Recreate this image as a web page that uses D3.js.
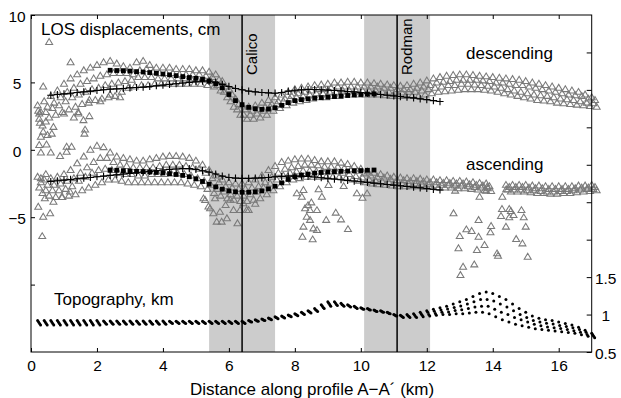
<!DOCTYPE html>
<html>
<head>
<meta charset="utf-8">
<script src="https://cdn.jsdelivr.net/npm/d3@7"></script>
<style>
  body { margin: 0; background: #fff; }
  text { font-family: "Liberation Sans", Arial, Helvetica, sans-serif; }
</style>
</head>
<body>
<svg id="chart" width="621" height="398"></svg>
<script>
// ---- data ----
// observation grid along the profile, km
const gridKm = d3.range(0.2, 17.001, 0.2);
// sub-profiles sample the grid with a small along-track shift, km
const trackShiftKm = [0, 0.1, 0.05, 0.15];
const topoShiftKm = [0, 0.03, 0.06, 0.09];

// descending LOS, cm (four parallel sub-profiles)
const descTrack1 = [3.3,3.6,4.0,4.4,4.9,5.3,5.6,5.9,6.1,6.3, 6.5,6.6,6.4,6.2,6.1,6.5,6.6,6.3,6.1,6.1, 6.1,6.0,6.0,6.0,5.9,5.9,5.8,5.6,5.1,4.5, 3.8,3.3,3.2,3.3,3.5,3.7,3.9,4.1,4.3,4.5, 4.6,4.7,4.8,4.85,4.9,5.0,5.0,5.05,5.05,5.0, 5.0,4.95,4.9,4.85,4.8,4.75,4.8,4.9,5.0,5.15, 5.3,5.4,5.5,5.55,5.6,5.6,5.55,5.5,5.45,5.4, 5.35,5.3,5.25,5.2,5.1,5.0,4.9,4.8,4.7,4.6, 4.5,4.4,4.3,4.1,3.9];
const descTrack2 = [2.8,3.2,3.5,3.9,4.3,4.6,4.9,5.1,5.3,5.5, 5.6,5.7,5.7,5.7,5.6,5.9,6.0,5.8,5.7,5.7, 5.7,5.6,5.6,5.6,5.6,5.5,5.4,5.2,4.7,4.1, 3.4,3.0,2.9,3.0,3.2,3.4,3.6,3.8,4.0,4.2, 4.3,4.4,4.5,4.5,4.6,4.7,4.7,4.7,4.7,4.7, 4.7,4.7,4.6,4.6,4.5,4.5,4.5,4.6,4.7,4.8, 5.0,5.05,5.1,5.2,5.2,5.2,5.2,5.15,5.1,5.0, 5.0,4.9,4.8,4.8,4.7,4.6,4.5,4.4,4.3,4.2, 4.1,4.05,4.0,3.8,3.7];
const descTrack3 = [2.3,2.8,3.1,3.3,3.6,3.9,4.1,4.3,4.5,4.6, 4.8,4.9,5.0,5.1,5.2,5.4,5.4,5.4,5.3,5.3, 5.3,5.3,5.3,5.3,5.2,5.2,5.1,4.8,4.3,3.6, 3.0,2.6,2.6,2.7,2.9,3.2,3.4,3.6,3.8,3.9, 4.0,4.1,4.2,4.2,4.3,4.3,4.4,4.4,4.4,4.4, 4.4,4.4,4.3,4.3,4.3,4.25,4.3,4.3,4.4,4.5, 4.6,4.7,4.8,4.8,4.9,4.9,4.85,4.8,4.75,4.7, 4.6,4.5,4.4,4.3,4.2,4.1,4.05,4.0,3.9,3.8, 3.75,3.7,3.6,3.5,3.45];
const descTrack4 = [1.8,2.4,2.6,2.8,3.0,3.2,3.4,3.5,3.7,3.8, 3.9,4.0,4.3,4.6,4.7,4.8,4.8,4.9,4.9,4.9, 4.9,4.9,4.9,4.9,4.9,4.8,4.7,4.4,3.9,3.2, 2.6,2.3,2.3,2.4,2.6,2.9,3.1,3.3,3.5,3.6, 3.7,3.8,3.9,3.9,4.0,4.0,4.1,4.1,4.1,4.1, 4.1,4.1,4.05,4.0,4.0,4.0,4.0,4.0,4.1,4.2, 4.3,4.35,4.4,4.45,4.5,4.5,4.5,4.45,4.4,4.3, 4.2,4.1,4.0,3.9,3.8,3.7,3.65,3.6,3.5,3.45, 3.4,3.35,3.3,3.25,3.2];
const descOutKm  = [0.55,1.2,0.37,0.25,0.27,0.37,0.3,0.25,0.47,0.68,0.63,1.44,1.59,1.64,1.62,1.08,1.77,1.77,1.43,2.1,2.4,2.7,0.22,0.45,0.5,0.3,1.23,1.0,1.3];
const descOutVal = [8.0,6.5,4.7,2.7,2.0,1.35,0.97,0.36,0.4,1.7,1.2,2.7,2.2,1.5,1.2,0.23,2.5,3.7,2.8,3.6,4.1,3.9,2.9,2.1,1.1,-0.2,0.23,2.7,2.4];

// ascending LOS, cm (null = no data)
const ascTrack1 = [-2.0,-2.2,-2.1,-2.0,-1.8,-1.5,-1.0,-0.5,0.0,0.3, 0.2,-0.2,-0.5,-0.6,-0.7,-0.8,-0.8,-0.7,-0.6,-0.5, -0.45,-0.45,-0.5,-0.6,-0.8,-1.1,-1.5,-1.9,-2.2,-2.4, -2.5,-2.5,-2.4,-2.2,-1.9,-1.5,-1.2,-0.9,-0.8,-0.7, -0.65,-0.65,-0.75,-0.85,-0.85,-0.85,-0.95,-1.05,-1.2,-1.4, -1.6,-1.7,-1.8,-1.9,-2.0,-2.05,-2.1,-2.1,-2.15,-2.2, -2.2,-2.25,-2.25,-2.3,-2.3,-2.35,-2.4,-2.45,-2.5,null, null,-2.6,-2.6,-2.6,-2.6,-2.65,-2.65,-2.7,-2.7,-2.7, -2.7,-2.7,-2.65,-2.65,-2.6];
const ascTrack2 = [-2.4,-2.6,-2.6,-2.5,-2.3,-2.1,-1.7,-1.3,-0.9,-0.6, -0.6,-0.9,-1.1,-1.2,-1.3,-1.3,-1.3,-1.3,-1.2,-1.1, -1.1,-1.1,-1.2,-1.3,-1.4,-1.7,-2.1,-2.4,-2.7,-2.8, -2.9,-2.9,-2.8,-2.7,-2.4,-2.0,-1.7,-1.4,-1.3,-1.2, -1.1,-1.1,-1.15,-1.25,-1.25,-1.25,-1.35,-1.45,-1.55,-1.75, -1.9,-2.0,-2.05,-2.15,-2.25,-2.25,-2.3,-2.3,-2.35,-2.4, -2.4,-2.45,-2.45,-2.5,-2.5,-2.55,-2.6,-2.65,-2.7,null, null,-2.75,-2.75,-2.75,-2.8,-2.85,-2.85,-2.9,-2.9,-2.9, -2.9,-2.85,-2.8,-2.8,-2.75];
const ascTrack3 = [-2.8,-3.0,-3.0,-3.0,-2.9,-2.7,-2.3,-2.0,-1.7,-1.5, -1.4,-1.5,-1.7,-1.8,-1.8,-1.9,-1.9,-1.8,-1.8,-1.8, -1.75,-1.75,-1.8,-1.9,-2.1,-2.3,-2.6,-2.9,-3.1,-3.3, -3.4,-3.4,-3.3,-3.1,-2.8,-2.5,-2.2,-1.9,-1.7,-1.6, -1.55,-1.55,-1.6,-1.6,-1.6,-1.6,-1.7,-1.8,-1.95,-2.05, -2.2,-2.3,-2.35,-2.4,-2.45,-2.5,-2.5,-2.5,-2.55,-2.55, -2.6,-2.6,-2.6,-2.65,-2.65,-2.7,-2.75,-2.8,-2.85,null, null,-2.95,-2.95,-2.95,-3.0,-3.0,-3.05,-3.1,-3.1,-3.05, -3.05,-3.0,-2.95,-2.9,-2.9];
const ascTrack4 = [-3.2,-3.4,-3.5,-3.5,-3.4,-3.3,-3.0,-2.8,-2.6,-2.4, -2.2,-2.2,-2.3,-2.4,-2.4,-2.4,-2.4,-2.4,-2.4,-2.4, -2.4,-2.4,-2.5,-2.6,-2.7,-2.9,-3.2,-3.4,-3.6,-3.7, -3.8,-3.8,-3.7,-3.6,-3.3,-3.0,-2.7,-2.4,-2.2,-2.1, -2.0,-2.0,-2.0,-2.0,-2.0,-2.0,-2.1,-2.2,-2.3,-2.4, -2.5,-2.55,-2.6,-2.65,-2.7,-2.7,-2.7,-2.7,-2.75,-2.75, -2.8,-2.8,-2.8,-2.85,-2.85,-2.9,-2.95,-3.0,-3.05,null, null,-3.1,-3.1,-3.1,-3.15,-3.2,-3.2,-3.25,-3.25,-3.2, -3.2,-3.15,-3.1,-3.05,-3.0];
const ascOutKm  = [0.22,0.37,0.34,0.58,0.42,0.68,0.93,1.18,0.88,1.08,0.6,0.45,0.3,
  5.23,5.43,5.63,5.78,5.94,6.14,6.26,6.6,6.44,6.04,5.73,5.53,5.28,5.58,5.38,6.34,6.54,5.9,6.8,
  8.06,8.26,8.21,8.72,8.82,9.02,9.48,9.88,10.05,10.19,8.31,8.46,8.67,8.36,8.46,8.26,8.56,8.67,8.23,8.54,8.95,9.24,9.4,9.61,8.5,8.4,
  12.81,13.57,13.2,13.36,13.0,13.57,12.96,13.52,13.75,13.95,13.93,14.29,14.28,14.5,14.55,14.25,14.5,14.63,14.87,14.94,14.4,15.0,14.71,14.9,14.13,14.16,15.06,13.1,13.44,13.02,12.86,13.6,13.8,13.83,14.41];
const ascOutVal = [-4.22,-4.96,-6.4,-4.7,-3.6,-3.85,-3.5,-3.1,-0.46,-0.14,-0.2,-1.8,-2.1,
  -3.6,-4.34,-5.33,-5.33,-5.08,-4.46,-5.45,-4.46,-3.97,-3.7,-4.6,-4.7,-3.72,-3.6,-4.2,-4.46,-4.46,-4.1,-4.0,
  -3.23,-2.98,-3.48,-2.93,-3.48,-2.61,-2.69,-3.23,-3.55,-3.23,-4.34,-4.47,-4.47,-4.96,-5.2,-5.7,-5.83,-5.95,-6.45,-6.64,-5.2,-4.66,-5.16,-5.88,-3.9,-4.1,
  -4.71,-5.21,-5.9,-6.02,-6.4,-6.45,-7.3,-7.43,-7.06,-5.65,-6.12,-3.48,-4.39,-4.39,-4.54,-4.91,-5.01,-4.84,-4.47,-5.01,-5.7,-5.7,-6.62,-6.94,-7.68,-7.86,-7.93,-8.67,-8.5,-9.29,-3.03,-3.48,-3.03,-2.73,-2.93];

// model curves: crosses (line) and squares, cm
const modelKm  = d3.range(0.6, 12.401, 0.2);
const squareKm = d3.range(2.4, 10.401, 0.2);
const descModel = [4.05,4.1,4.15,4.2,4.25,4.3,4.35,4.4,4.45,4.5, 4.52,4.55,4.6,4.62,4.65,4.7,4.75,4.8,4.85,4.9, 4.95,5.0,5.05,5.1,5.1,5.0,4.85,4.7,4.55,4.45, 4.35,4.3,4.25,4.22,4.2,4.25,4.35,4.42,4.45,4.47, 4.47,4.45,4.43,4.4,4.37,4.33,4.3,4.25,4.2,4.15, 4.1,4.05,4.0,3.95,3.9,3.85,3.78,3.72,3.65,3.58];
const ascModel = [-2.35,-2.3,-2.25,-2.2,-2.15,-2.1,-2.05,-2.0,-1.95,-1.9, -1.85,-1.8,-1.75,-1.7,-1.65,-1.6,-1.55,-1.5,-1.45,-1.42, -1.4,-1.4,-1.45,-1.55,-1.65,-1.8,-1.95,-2.05,-2.1,-2.12, -2.12,-2.1,-2.08,-2.05,-2.0,-1.97,-1.95,-1.95,-1.95,-1.98, -2.02,-2.07,-2.12,-2.17,-2.22,-2.27,-2.32,-2.37,-2.42,-2.47, -2.52,-2.57,-2.62,-2.67,-2.72,-2.77,-2.82,-2.87,-2.93,-2.98];
const descSquares = [5.9,5.88,5.86,5.84,5.8,5.77,5.73,5.68,5.62,5.56, 5.5,5.43,5.36,5.3,5.22,5.1,4.9,4.6,4.1,3.65, 3.35,3.15,3.05,3.0,3.02,3.12,3.3,3.5,3.65,3.72, 3.78,3.83,3.87,3.91,3.95,3.99,4.03,4.07,4.1,4.13, 4.15];
const ascSquares = [-1.5,-1.52,-1.55,-1.57,-1.6,-1.62,-1.65,-1.68,-1.72,-1.77, -1.83,-1.9,-2.0,-2.15,-2.35,-2.55,-2.75,-2.92,-3.05,-3.12, -3.15,-3.15,-3.12,-3.05,-2.9,-2.7,-2.45,-2.2,-2.0,-1.88, -1.8,-1.73,-1.68,-1.65,-1.62,-1.6,-1.58,-1.56,-1.54,-1.52, -1.5];

// topography, km (right axis)
const topoTrack1 = [0.92,0.92,0.92,0.92,0.92,0.92,0.92,0.92,0.92,0.92, 0.915,0.915,0.915,0.915,0.915,0.915,0.915,0.915,0.915,0.915, 0.91,0.91,0.91,0.91,0.91,0.91,0.91,0.91,0.91,0.91, 0.91,0.91,0.92,0.93,0.94,0.955,0.97,0.98,0.995,1.01, 1.03,1.05,1.08,1.13,1.17,1.17,1.15,1.13,1.11,1.09, 1.08,1.06,1.05,1.03,1.0,0.99,1.0,1.01,1.03,1.05, 1.07,1.09,1.11,1.14,1.17,1.2,1.24,1.28,1.3,1.28, 1.24,1.2,1.14,1.08,1.03,0.98,0.95,0.93,0.92,0.9, 0.88,0.86,0.83,0.79,0.75];
const topoTrack2 = [0.9,0.9,0.9,0.9,0.9,0.9,0.9,0.9,0.9,0.9, 0.9,0.9,0.9,0.9,0.9,0.9,0.9,0.9,0.9,0.9, 0.9,0.9,0.9,0.9,0.9,0.9,0.9,0.9,0.9,0.9, 0.9,0.9,0.915,0.925,0.935,0.945,0.96,0.97,0.985,1.0, 1.02,1.04,1.065,1.115,1.15,1.155,1.135,1.12,1.1,1.085, 1.075,1.055,1.045,1.025,0.995,0.98,0.985,0.995,1.01,1.03, 1.045,1.06,1.075,1.095,1.115,1.14,1.17,1.2,1.2,1.18, 1.14,1.1,1.05,1.0,0.96,0.92,0.9,0.885,0.875,0.855, 0.84,0.825,0.8,0.765,0.73];
const topoTrack3 = [0.88,0.88,0.88,0.88,0.88,0.88,0.88,0.88,0.88,0.88, 0.885,0.885,0.885,0.885,0.885,0.885,0.885,0.885,0.885,0.885, 0.89,0.89,0.89,0.89,0.89,0.89,0.89,0.89,0.89,0.89, 0.89,0.89,0.905,0.915,0.925,0.94,0.955,0.965,0.98,0.995, 1.01,1.03,1.055,1.095,1.13,1.135,1.125,1.11,1.09,1.075, 1.065,1.045,1.035,1.015,0.985,0.97,0.975,0.975,0.99,1.0, 1.015,1.03,1.035,1.055,1.065,1.08,1.1,1.11,1.11,1.07, 1.03,1.0,0.96,0.93,0.9,0.87,0.85,0.835,0.825,0.815, 0.8,0.785,0.765,0.735,0.71];
const topoTrack4 = [0.86,0.86,0.86,0.86,0.86,0.86,0.86,0.86,0.86,0.86, 0.87,0.87,0.87,0.87,0.87,0.87,0.87,0.87,0.87,0.87, 0.88,0.88,0.88,0.88,0.88,0.88,0.88,0.88,0.88,0.88, 0.88,0.88,0.9,0.91,0.92,0.93,0.945,0.955,0.97,0.985, 1.0,1.02,1.04,1.08,1.11,1.12,1.11,1.1,1.08,1.07, 1.06,1.04,1.03,1.01,0.98,0.96,0.96,0.96,0.97,0.98, 0.99,1.0,1.0,1.01,1.01,1.02,1.03,1.03,1.01,0.97, 0.93,0.9,0.87,0.85,0.83,0.81,0.8,0.79,0.78,0.77, 0.76,0.75,0.73,0.71,0.69];

// fault zones: shaded width and fault trace, km
const faultNames = ['Calico', 'Rodman'];
const faultKm = [6.4, 11.1];
const zoneFrom = [5.4, 10.1];
const zoneTo = [7.4, 12.1];

const xTicks = [0, 2, 4, 6, 8, 10, 12, 14, 16];
const losTicks = [10, 5, 0, -5, -10];
const losLabels = [10, 5, 0, -5];
const topoTicks = [0.5, 1, 1.5, 2, 2.5, 3, 3.5, 4, 4.5];
const topoLabels = [0.5, 1, 1.5];

// ---- chart ----
const W = 621, H = 398;
const margin = {top: 15, right: 29.3, bottom: 46, left: 31};
const svg = d3.select('#chart');

const x = d3.scaleLinear().domain([0, 17]).range([margin.left, W - margin.right]);
const y = d3.scaleLinear().domain([-15, 10]).range([H - margin.bottom, margin.top]);
const yTopo = d3.scaleLinear().domain([0.5, 5]).range([H - margin.bottom, margin.top]);

const gray = '#7a7a7a';
const tri = 'M0,-3.4L3.5,2.5L-3.5,2.5Z';

svg.append('rect').attr('width', W).attr('height', H).attr('fill', '#fff');

// fault zones
svg.append('g').selectAll('rect')
  .data(faultKm)
  .enter().append('rect')
  .attr('x', (d, i) => x(zoneFrom[i]))
  .attr('y', margin.top)
  .attr('width', (d, i) => x(zoneTo[i]) - x(zoneFrom[i]))
  .attr('height', y(-15) - y(10))
  .attr('fill', '#cccccc');

// observed LOS triangles
function drawTracks(tracks, outKm, outVal) {
  const pts = [];
  tracks.forEach((tr, k) => tr.forEach((v, i) => {
    if (v !== null) pts.push([gridKm[i] + trackShiftKm[k], v]);
  }));
  outKm.forEach((km, i) => pts.push([km, outVal[i]]));
  svg.append('g')
    .attr('fill', 'none')
    .attr('stroke', gray)
    .attr('stroke-width', 1.05)
    .selectAll('path')
    .data(pts)
    .enter().append('path')
    .attr('d', tri)
    .attr('transform', d => `translate(${x(d[0])},${y(d[1])})`);
}
drawTracks([descTrack1, descTrack2, descTrack3, descTrack4], descOutKm, descOutVal);
drawTracks([ascTrack1, ascTrack2, ascTrack3, ascTrack4], ascOutKm, ascOutVal);

// topography dots
const topoPts = [];
[topoTrack1, topoTrack2, topoTrack3, topoTrack4].forEach((tr, k) =>
  tr.forEach((v, i) => topoPts.push([gridKm[i] + topoShiftKm[k], v])));
svg.append('g')
  .selectAll('circle')
  .data(topoPts)
  .enter().append('circle')
  .attr('cx', d => x(d[0]))
  .attr('cy', d => yTopo(d[1]))
  .attr('r', 1.5)
  .attr('fill', '#000');

// fault traces
svg.append('g').selectAll('line')
  .data(faultKm)
  .enter().append('line')
  .attr('x1', d => x(d)).attr('x2', d => x(d))
  .attr('y1', margin.top).attr('y2', H - margin.bottom)
  .attr('stroke', '#000')
  .attr('stroke-width', 1.5);

// model with crosses
const line = d3.line().x((d, i) => x(modelKm[i])).y(d => y(d));
[descModel, ascModel].forEach(series => {
  svg.append('path')
    .datum(series)
    .attr('fill', 'none')
    .attr('stroke', '#000')
    .attr('stroke-width', 0.8)
    .attr('d', line);
  svg.append('g')
    .attr('stroke', '#000')
    .attr('stroke-width', 1.1)
    .selectAll('path')
    .data(series)
    .enter().append('path')
    .attr('d', 'M-3.6,0H3.6M0,-3.6V3.6')
    .attr('transform', (d, i) => `translate(${x(modelKm[i])},${y(d)})`);
});

// squares
[descSquares, ascSquares].forEach(series => {
  svg.append('g')
    .attr('fill', '#000')
    .selectAll('rect')
    .data(series)
    .enter().append('rect')
    .attr('x', (d, i) => x(squareKm[i]) - 2.4)
    .attr('y', d => y(d) - 2.4)
    .attr('width', 4.8)
    .attr('height', 4.8);
});

// axes (ticks point inwards)
const fmt = d => d3.format('')(d);
const xAxis = svg.append('g')
  .attr('transform', `translate(0,${H - margin.bottom})`)
  .call(d3.axisBottom(x).tickValues(xTicks).tickSize(-4).tickFormat(fmt));
xAxis.selectAll('text').attr('y', 8);

svg.append('g')
  .attr('transform', `translate(0,${margin.top})`)
  .call(d3.axisTop(x).tickValues(xTicks).tickSize(-4).tickFormat(''));

const yAxis = svg.append('g')
  .attr('transform', `translate(${margin.left},0)`)
  .call(d3.axisLeft(y).tickValues(losTicks).tickSize(-4)
    .tickFormat(d => losLabels.includes(d) ? fmt(d) : ''));
yAxis.selectAll('text').attr('x', -14).attr('text-anchor', 'middle').attr('dy', '0.4em');

const rAxis = svg.append('g')
  .attr('transform', `translate(${W - margin.right},0)`)
  .call(d3.axisRight(yTopo).tickValues(topoTicks).tickSize(-5)
    .tickFormat(d => topoLabels.includes(d) ? fmt(d) : ''));
rAxis.selectAll('text').attr('x', 14).attr('text-anchor', 'middle').attr('dy', '0.4em');

svg.selectAll('.domain').remove();
svg.selectAll('.tick line').attr('stroke', '#000');
svg.selectAll('.tick text').attr('font-size', 15.5).attr('fill', '#000');

svg.append('rect')
  .attr('x', margin.left).attr('y', margin.top)
  .attr('width', x(17) - x(0)).attr('height', y(-15) - y(10))
  .attr('fill', 'none').attr('stroke', '#000').attr('stroke-width', 1);

// labels
const label = (tx, ty, s, anchor) => svg.append('text')
  .attr('x', tx).attr('y', ty).attr('font-size', 17)
  .attr('text-anchor', anchor || 'start').text(s);

label(41, 35, 'LOS displacements, cm');
label(466, 59, 'descending');
label(466, 170, 'ascending');
label(54, 305, 'Topography, km');
label(312, 395, 'Distance along profile A\u2212A\u00B4 (km)', 'middle');

svg.append('g').selectAll('text')
  .data(faultNames)
  .enter().append('text')
  .attr('font-size', 15)
  .attr('transform', (d, i) => `translate(${x(faultKm[i]) + 15},75) rotate(-90)`)
  .text(d => d);
</script>
</body>
</html>
